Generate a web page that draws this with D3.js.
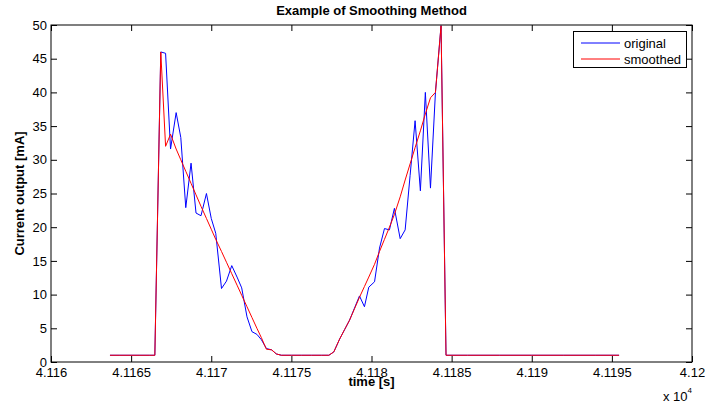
<!DOCTYPE html>
<html>
<head>
<meta charset="utf-8">
<script src="https://cdn.jsdelivr.net/npm/d3@7"></script>
<style>
  body { margin: 0; background: #fff; }
  svg { display: block; font-family: "Liberation Sans", Arial, Helvetica, sans-serif; }
</style>
</head>
<body>
<svg id="chart" width="705" height="407"></svg>
<script>
// ---- data (time in seconds, current in mA) ----
const time = [
  41163.68, 41164.30, 41164.93, 41165.55, 41166.17, 41166.48,
  41166.85, 41167.15, 41167.46, 41167.81, 41168.10, 41168.41, 41168.74, 41169.05,
  41169.36, 41169.70, 41170.00, 41170.28, 41170.64, 41170.95, 41171.28, 41171.61,
  41171.90, 41172.23, 41172.54, 41172.85, 41173.13, 41173.44, 41173.77, 41174.06,
  41174.37, 41175.00, 41175.62, 41176.25, 41176.87, 41177.34, 41177.65,
  41178.01, 41178.32, 41178.63, 41178.94, 41179.25, 41179.56, 41179.83, 41180.19,
  41180.50, 41180.81, 41181.12, 41181.43, 41181.79, 41182.10, 41182.41, 41182.72,
  41183.05, 41183.36, 41183.68, 41183.99, 41184.34, 41184.65,
  41186.00, 41188.00, 41190.00, 41192.00, 41194.00, 41195.45
];
const original = [
  1.0, 1.0, 1.0, 1.0, 1.0, 1.0,
  46.0, 45.8, 31.6, 37.0, 33.3, 22.9, 29.5, 22.1,
  21.7, 25.0, 21.3, 19.1, 10.9, 12.0, 14.3, 12.6,
  11.0, 6.7, 4.5, 4.1, 3.3, 2.0, 1.8, 1.2,
  1.0, 1.0, 1.0, 1.0, 1.0, 1.0, 1.5,
  3.4, 4.8, 6.2, 8.0, 9.8, 8.2, 11.1, 11.9,
  16.9, 19.8, 19.6, 22.8, 18.3, 19.6, 27.7, 35.8,
  25.4, 40.0, 25.8, 40.0, 49.9, 1.0,
  1.0, 1.0, 1.0, 1.0, 1.0, 1.0
];
const smoothed = [
  1.0, 1.0, 1.0, 1.0, 1.0, 1.0,
  46.0, 32.0, 33.8, 31.6, 30.0, 28.3, 26.5, 24.8,
  23.1, 21.3, 19.7, 18.2, 16.4, 14.8, 13.1, 11.4,
  9.9, 8.2, 6.6, 5.0, 3.6, 1.9, 1.8, 1.2,
  1.0, 1.0, 1.0, 1.0, 1.0, 1.0, 1.5,
  3.4, 4.8, 6.2, 7.9, 9.6, 11.2, 12.6, 14.5,
  16.4, 18.2, 20.0, 21.9, 24.5, 27.0, 29.4, 31.8,
  34.3, 36.8, 39.2, 40.0, 49.9, 1.0,
  1.0, 1.0, 1.0, 1.0, 1.0, 1.0
];
const xTicks = [41160, 41165, 41170, 41175, 41180, 41185, 41190, 41195, 41200];
const xTickLabels = ["4.116", "4.1165", "4.117", "4.1175", "4.118", "4.1185", "4.119", "4.1195", "4.12"];
const yTicks = [0, 5, 10, 15, 20, 25, 30, 35, 40, 45, 50];
const seriesNames = ["original", "smoothed"];
const seriesColors = ["#0000ff", "#ff0000"];

// ---- layout ----
const L = 51, R = 692, T = 25, B = 362;
const FS = "13px";
const svg = d3.select("#chart");
const x = d3.scaleLinear().domain([41160, 41200]).range([L, R]);
const y = d3.scaleLinear().domain([0, 50]).range([B, T]);
const tickLen = 6;

// axes (MATLAB box with inward ticks on all sides)
const xAxisB = d3.axisBottom(x).tickValues(xTicks).tickSize(-tickLen).tickPadding(6)
  .tickFormat((d, i) => xTickLabels[i]);
const xAxisT = d3.axisTop(x).tickValues(xTicks).tickSize(-tickLen).tickFormat("");
const yAxisL = d3.axisLeft(y).tickValues(yTicks).tickSize(-tickLen).tickPadding(4);
const yAxisR = d3.axisRight(y).tickValues(yTicks).tickSize(-tickLen).tickFormat("");

function styleAxis(g) {
  g.select(".domain").remove();
  g.selectAll(".tick line").attr("stroke", "#000");
  g.selectAll(".tick text").attr("fill", "#000").style("font-size", FS);
}
svg.append("g").attr("transform", `translate(0,${B})`).call(xAxisB).call(styleAxis);
svg.append("g").attr("transform", `translate(0,${T})`).call(xAxisT).call(styleAxis);
svg.append("g").attr("transform", `translate(${L},0)`).call(yAxisL).call(styleAxis);
svg.append("g").attr("transform", `translate(${R},0)`).call(yAxisR).call(styleAxis);

// lines
const line = d3.line().x((d, i) => x(time[i])).y(d => y(d));
[original, smoothed].forEach((vals, k) => {
  svg.append("path").datum(vals)
    .attr("fill", "none")
    .attr("stroke", seriesColors[k])
    .attr("stroke-width", 1)
    .attr("d", line);
});

// box
svg.append("rect").attr("x", L).attr("y", T).attr("width", R - L).attr("height", B - T)
  .attr("fill", "none").attr("stroke", "#000").attr("stroke-width", 1);

// title & labels
svg.append("text").attr("x", (L + R) / 2).attr("y", 15).attr("text-anchor", "middle")
  .style("font-size", FS).style("font-weight", "bold").text("Example of Smoothing Method");
svg.append("text").attr("x", (L + R) / 2).attr("y", 386).attr("text-anchor", "middle")
  .style("font-size", FS).style("font-weight", "bold").text("time [s]");
svg.append("text").attr("transform", `translate(24,${(T + B) / 2}) rotate(-90)`)
  .attr("text-anchor", "middle")
  .style("font-size", FS).style("font-weight", "bold").text("Current output [mA]");
const expo = svg.append("text").attr("x", 663).attr("y", 401).style("font-size", FS);
expo.append("tspan").text("x 10");
expo.append("tspan").attr("dy", -8).style("font-size", "8px").text("4");

// legend
const lg = svg.append("g");
lg.append("rect").attr("x", 573.5).attr("y", 31.5).attr("width", 113).attr("height", 36)
  .attr("fill", "#fff").attr("stroke", "#000").attr("stroke-width", 1);
seriesNames.forEach((name, k) => {
  const yy = 43 + k * 16;
  lg.append("line").attr("x1", 581).attr("x2", 620).attr("y1", yy).attr("y2", yy)
    .attr("stroke", seriesColors[k]).attr("stroke-width", 1);
  lg.append("text").attr("x", 624).attr("y", yy).attr("dy", "0.35em")
    .style("font-size", FS).text(name);
});
</script>
</body>
</html>
